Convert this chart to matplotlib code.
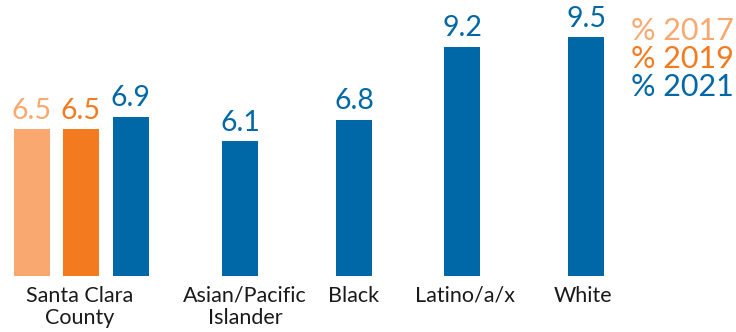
"""Grouped bar chart: rates by race/ethnicity, Santa Clara County."""
import matplotlib.pyplot as plt

plt.rcParams["font.family"] = ["Lato", "DejaVu Sans"]

# data
categories = ["Santa Clara\nCounty", "Asian/Pacific\nIslander", "Black", "Latino/a/x", "White"]
years = ["% 2017", "% 2019", "% 2021"]
county_2017 = [6.5]
county_2019 = [6.5]
values_2021 = [6.9, 6.1, 6.8, 9.2, 9.5]

COLORS = {"% 2017": "#F9A86F", "% 2019": "#F47A20", "% 2021": "#0068A6"}
W, H, DPI = 7.36, 3.32, 100

# layout (pixel-like units across the figure)
group_x = [81, 240, 354, 462, 586]
label_x = [80, 245, 354, 465, 583]
OFFSET = 49.5
BAR_W = 36

fig = plt.figure(figsize=(W, H), dpi=DPI)
ax = fig.add_axes([0, 56 / 332, 1, 276 / 332])
ax.set_xlim(0, 736)
ax.set_ylim(1.7, 10.72)
ax.axis("off")


def bars(xs, vals, color):
    rects = ax.bar(xs, vals, width=BAR_W, color=color, align="center")
    for r, v in zip(rects, vals):
        ax.annotate(f"{v:.1f}", (r.get_x() + r.get_width() / 2, v),
                    xytext=(0, 4), textcoords="offset points",
                    ha="center", va="bottom", fontsize=20.5, color=color)


bars([group_x[0] - OFFSET], county_2017, COLORS["% 2017"])
bars([group_x[0]], county_2019, COLORS["% 2019"])
x2021 = [group_x[0] + OFFSET] + group_x[1:]
bars(x2021, values_2021, COLORS["% 2021"])

for x, lab in zip(label_x, categories):
    fig.text(x / 736, 1 - 286 / 332, lab, ha="center", va="top",
             fontsize=15.5, color="#1a1a1a", linespacing=1.1)

for i, y in enumerate(years):
    fig.text(734 / 736, 1 - (17 + i * 28) / 332, y, ha="right", va="top",
             fontsize=22, color=COLORS[y])

fig.savefig("out.png", dpi=DPI, facecolor="white")
